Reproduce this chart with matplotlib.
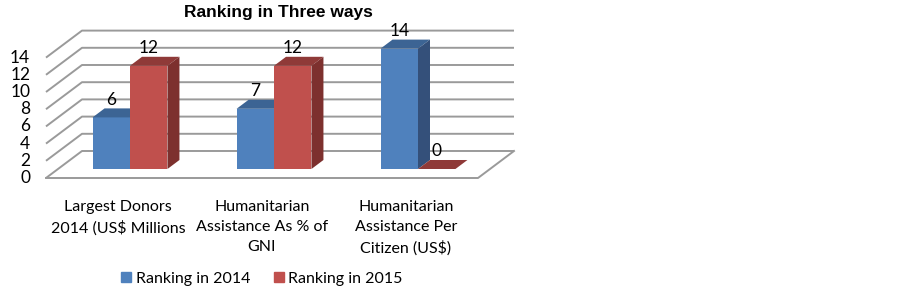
import numpy as np
import matplotlib.pyplot as plt
from matplotlib.patches import Polygon, Patch

# Chart data
categories = ["Largest Donors\n2014 (US$ Millions",
              "Humanitarian\nAssistance As % of\nGNI",
              "Humanitarian\nAssistance Per\nCitizen (US$)"]
rank_2014 = [6, 7, 14]
rank_2015 = [12, 12, 0]
series_names = ["Ranking in 2014", "Ranking in 2015"]
y_ticks = [0, 2, 4, 6, 8, 10, 12, 14]

# Colours for front / top / side faces
blue = ("#4F81BD", "#3C6494", "#34507A")
red = ("#C0504D", "#8F3A38", "#7D302E")
grid_color = "#9A9A9A"

# Fake 3D projection: depth d in [0, 1] shifts right and up
DX = 0.25   # category units
DY = 3.14   # value units
bar_w = 0.26
d0, d1 = 1 / 3, 2 / 3

plt.rcParams['font.family'] = ['Lato', 'DejaVu Sans']

fig = plt.figure(figsize=(9.03, 2.91), dpi=100)
ax = fig.add_axes([0, 0, 1, 1])
# map pixels: category 0 at x=118px, 144px per category; value 0 at y=178px, 8.6px per unit
ax.set_xlim(-118 / 144, (903 - 118) / 144)
ax.set_ylim((178 - 291) / 8.6, 178 / 8.6)
ax.axis("off")

def proj(x, v, d):
    return (x + d * DX, v + d * DY)

x_left, x_right = -0.5, len(categories) - 0.5

# Back wall gridlines and left wall diagonals
for v in y_ticks:
    p0 = proj(x_left, v, 0)
    p1 = proj(x_left, v, 1)
    p2 = proj(x_right, v, 1)
    ax.plot([p0[0], p1[0], p2[0]], [p0[1], p1[1], p2[1]],
            color=grid_color, lw=1.4, zorder=1, solid_capstyle="butt")
    ax.text(-0.61, v, str(v), ha="right", va="center", fontsize=12.5)

# Floor outline
f = [proj(x_left, 0, 0), proj(x_right, 0, 0), proj(x_right, 0, 1)]
ax.plot([p[0] for p in f], [p[1] for p in f], color=grid_color, lw=1.4, zorder=1)

def draw_bars(lefts, values, colors, label):
    front, top, side = colors
    xs = np.array(lefts) + d0 * DX
    ax.bar(xs, values, width=bar_w, bottom=d0 * DY, align="edge",
           color=front, zorder=3, label=label)
    for xl, v in zip(lefts, values):
        xr = xl + bar_w
        top_face = [proj(xl, v, d0), proj(xr, v, d0), proj(xr, v, d1), proj(xl, v, d1)]
        ax.add_patch(Polygon(top_face, closed=True, facecolor=top, edgecolor="none", zorder=3))
        if v > 0:
            side_face = [proj(xr, 0, d0), proj(xr, v, d0), proj(xr, v, d1), proj(xr, 0, d1)]
            ax.add_patch(Polygon(side_face, closed=True, facecolor=side, edgecolor="none", zorder=3))
        cx, cy = proj(xl + bar_w / 2, v, d0)
        ax.text(cx, cy + 2.05, str(v), ha="center", va="center", fontsize=12.5, zorder=5)

pos = np.arange(len(categories))
draw_bars(pos - bar_w, rank_2014, blue, series_names[0])
draw_bars(pos, rank_2015, red, series_names[1])

# Category labels under the floor
for i, cat in enumerate(categories):
    ax.text(i, (178 - 200) / 8.6, cat, ha="center", va="top", fontsize=11.5,
            linespacing=1.55)

fig.text(278 / 903, 1 - 13 / 291, "Ranking in Three ways", ha="center", va="center",
         fontsize=12.5, fontweight="bold", family="Liberation Sans")

handles = [Patch(color=blue[0]), Patch(color=red[0])]
fig.legend(handles, series_names, loc="center", bbox_to_anchor=(262 / 903, 1 - 279 / 291),
           ncol=2, frameon=False, fontsize=11.5, handlelength=0.6, handleheight=0.6,
           handletextpad=0.3, columnspacing=1.5)

fig.savefig("out.png", dpi=100)
